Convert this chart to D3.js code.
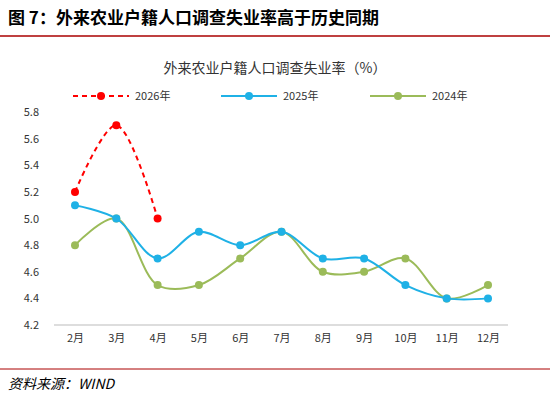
<!DOCTYPE html><html><head><meta charset="utf-8"><script src="https://cdn.jsdelivr.net/npm/d3@7"></script>
<style>body{margin:0;background:#fff}</style></head><body><svg id="c" width="550" height="408"></svg><script>
const months=["2月","3月","4月","5月","6月","7月","8月","9月","10月","11月","12月"];
const s2026=[5.2,5.7,5.0];
const s2025=[5.1,5.0,4.7,4.9,4.8,4.9,4.7,4.7,4.5,4.4,4.4];
const s2024=[4.8,5.0,4.5,4.5,4.7,4.9,4.6,4.6,4.7,4.4,4.5];
const yTicks=[4.2,4.4,4.6,4.8,5.0,5.2,5.4,5.6,5.8];
const svg=d3.select("#c");
const F="'Noto Sans CJK SC',sans-serif";
svg.append("text").attr("x",8).attr("y",24).attr("font-family",F).attr("font-weight","bold").attr("font-size",17).attr("fill","#000").text("图 7：外来农业户籍人口调查失业率高于历史同期");
svg.append("line").attr("x1",0).attr("x2",550).attr("y1",36).attr("y2",36).attr("stroke","#a00").attr("stroke-width",1.5);
svg.append("text").attr("x",275).attr("y",73).attr("text-anchor","middle").attr("font-family",F).attr("font-size",14).attr("fill","#333").text("外来农业户籍人口调查失业率（%）");
const x=d3.scalePoint().domain(months).range([75,488]);
const y=d3.scaleLinear().domain([4.2,5.8]).range([325,112]);
const ya=svg.append("g").attr("transform","translate(45,0)").call(d3.axisLeft(y).tickValues(yTicks).tickFormat(d3.format(".1f")).tickSize(0).tickPadding(6));
ya.select(".domain").remove();
ya.selectAll("text").attr("font-family",F).attr("font-size",11).attr("fill","#333");
svg.append("line").attr("x1",54).attr("x2",508).attr("y1",y(4.2)).attr("y2",y(4.2)).attr("stroke","#bbb");
const xa=svg.append("g").attr("transform",`translate(0,${y(4.2)})`).call(d3.axisBottom(x).tickSize(0).tickPadding(9));
xa.select(".domain").remove();
xa.selectAll("text").attr("font-family",F).attr("font-size",11).attr("fill","#333");
const line=d3.line().x((d,i)=>x(months[i])).y(d=>y(d)).curve(d3.curveCatmullRom.alpha(0.5));
const series=[{d:s2024,c:"#9bbb59",n:"2024年",dash:null},{d:s2025,c:"#1fb1e6",n:"2025年",dash:null},{d:s2026,c:"#ff0000",n:"2026年",dash:"5,4"}];
series.forEach(s=>{
 svg.append("path").attr("d",line(s.d)).attr("fill","none").attr("stroke",s.c).attr("stroke-width",2).attr("stroke-dasharray",s.dash);
 svg.selectAll(null).data(s.d).enter().append("circle").attr("cx",(d,i)=>x(months[i])).attr("cy",d=>y(d)).attr("r",4).attr("fill",s.c);
});
const leg=[{s:series[2],x:73},{s:series[1],x:221},{s:series[0],x:370}];
leg.forEach(l=>{
 svg.append("line").attr("x1",l.x).attr("x2",l.x+56).attr("y1",96).attr("y2",96).attr("stroke",l.s.c).attr("stroke-width",2).attr("stroke-dasharray",l.s.dash);
 svg.append("circle").attr("cx",l.x+28).attr("cy",96).attr("r",4).attr("fill",l.s.c);
 svg.append("text").attr("x",l.x+62).attr("y",100).attr("font-family",F).attr("font-size",11).attr("fill","#333").text(l.s.n);
});
svg.append("line").attr("x1",0).attr("x2",550).attr("y1",369).attr("y2",369).attr("stroke","#a00").attr("stroke-width",1);
svg.append("text").attr("x",8).attr("y",389).attr("font-family",F).attr("font-style","italic").attr("font-size",14).attr("fill","#000").text("资料来源：WIND");
</script></body></html>
